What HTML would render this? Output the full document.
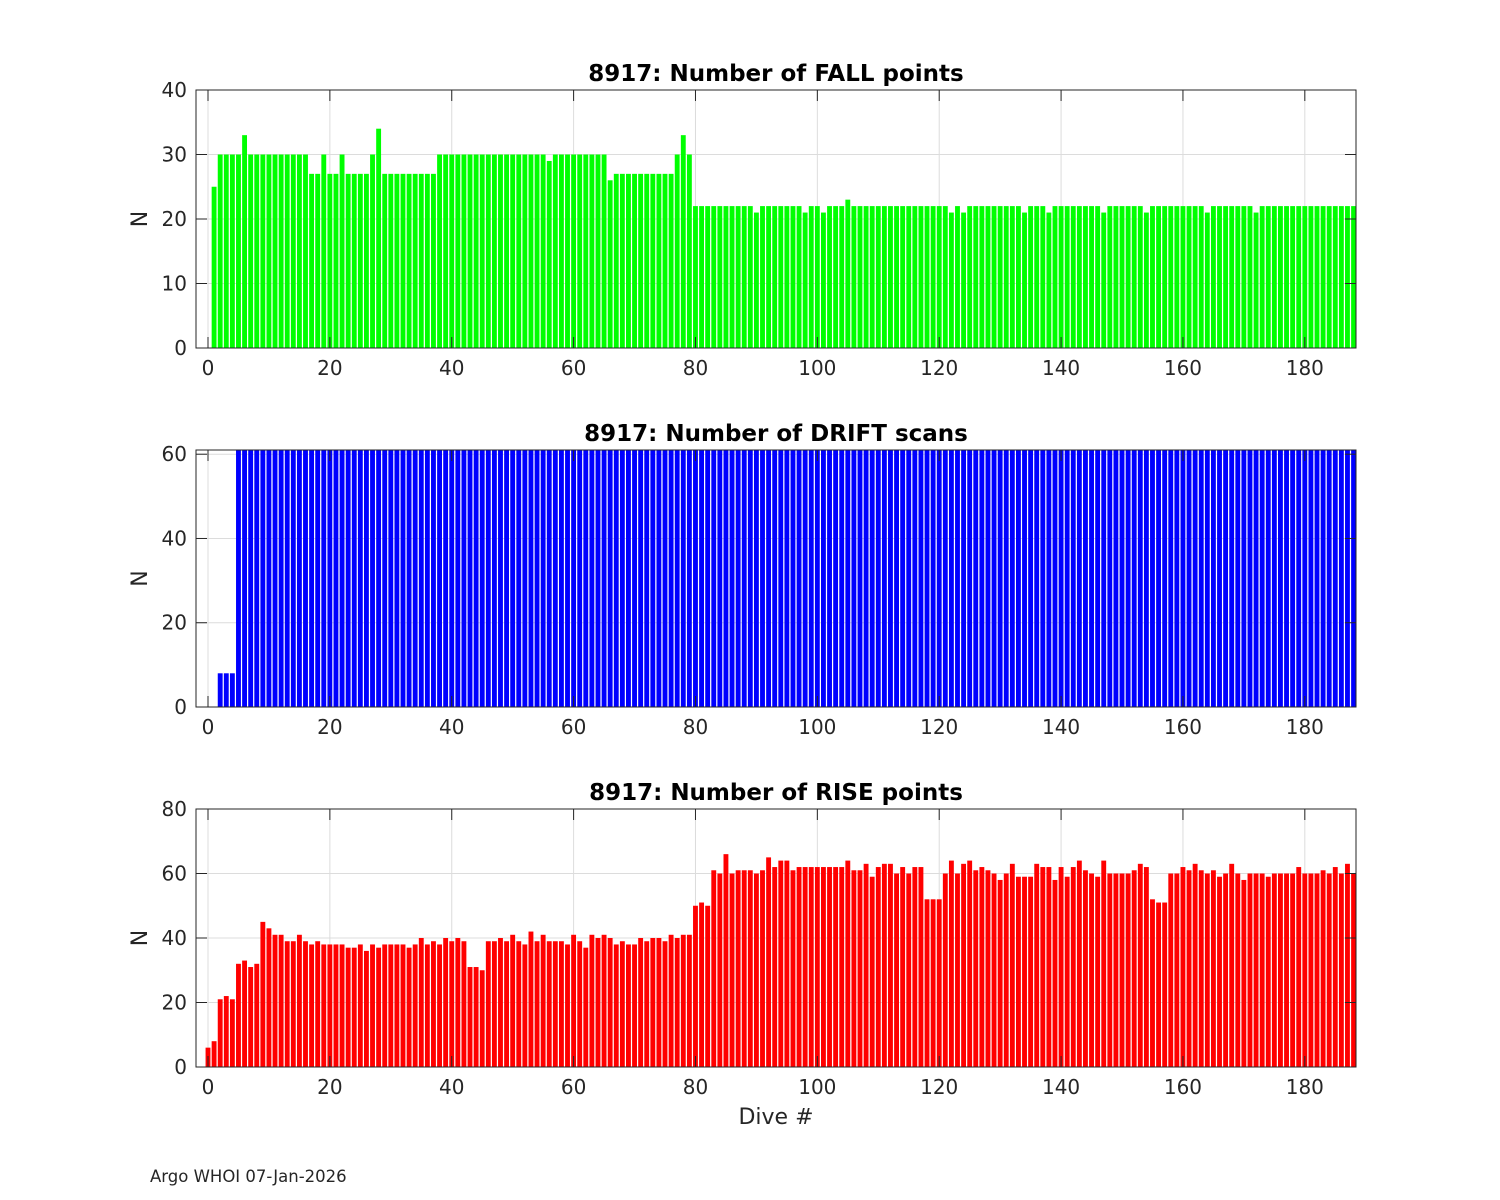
<!DOCTYPE html>
<html><head><meta charset="utf-8"><style>
html,body{margin:0;padding:0;background:#fff}
svg{display:block}
text{font-family:"DejaVu Sans","Liberation Sans",sans-serif;fill:#262626}
</style></head><body>
<svg id="fig" width="1500" height="1200" viewBox="0 0 1500 1200" xmlns="http://www.w3.org/2000/svg">
<rect width="1500" height="1200" fill="#fff"/>
<text x="150" y="1182" font-size="16.5">Argo WHOI 07-Jan-2026</text>
<text x="776" y="1124" font-size="22" text-anchor="middle">Dive #</text>
</svg>
<script>
const fallValues = [25,30,30,30,30,33,30,30,30,30,30,30,30,30,30,30,27,27,30,27,27,30,27,27,27,27,30,34,27,27,27,27,27,27,27,27,27,30,30,30,30,30,30,30,30,30,30,30,30,30,30,30,30,30,30,29,30,30,30,30,30,30,30,30,30,26,27,27,27,27,27,27,27,27,27,27,30,33,30,22,22,22,22,22,22,22,22,22,22,21,22,22,22,22,22,22,22,21,22,22,21,22,22,22,23,22,22,22,22,22,22,22,22,22,22,22,22,22,22,22,22,21,22,21,22,22,22,22,22,22,22,22,22,21,22,22,22,21,22,22,22,22,22,22,22,22,21,22,22,22,22,22,22,21,22,22,22,22,22,22,22,22,22,21,22,22,22,22,22,22,22,21,22,22,22,22,22,22,22,22,22,22,22,22,22,22,22,22];
const driftValues = [0,8,8,8];
const riseValues = [6,8,21,22,21,32,33,31,32,45,43,41,41,39,39,41,39,38,39,38,38,38,38,37,37,38,36,38,37,38,38,38,38,37,38,40,38,39,38,40,39,40,39,31,31,30,39,39,40,39,41,39,38,42,39,41,39,39,39,38,41,39,37,41,40,41,40,38,39,38,38,40,39,40,40,39,41,40,41,41,50,51,50,61,60,66,60,61,61,61,60,61,65,62,64,64,61,62,62,62,62,62,62,62,62,64,61,61,63,59,62,63,63,60,62,60,62,62,52,52,52,60,64,60,63,64,61,62,61,60,58,60,63,59,59,59,63,62,62,58,62,59,62,64,61,60,59,64,60,60,60,60,61,63,62,52,51,51,60,60,62,61,63,61,60,61,59,60,63,60,58,60,60,60,59,60,60,60,60,62,60,60,60,61,60,62,60,63,60];
for (let d = 5; d <= 188; d++) driftValues.push(61);
const xTicks = [0,20,40,60,80,100,120,140,160,180];
const fallYTicks = [0,10,20,30,40];
const driftYTicks = [0,20,40,60];
const riseYTicks = [0,20,40,60,80];

const NS = "http://www.w3.org/2000/svg";
const fig = document.getElementById('fig');
const X0 = 196, X1 = 1356, XMIN = -1.97, XMAX = 188.4;
function xs(v){ return X0 + (v - XMIN) / (XMAX - XMIN) * (X1 - X0); }
function mk(tag, attrs, parent){ const e = document.createElementNS(NS, tag); for (const k in attrs) e.setAttribute(k, attrs[k]); (parent||fig).appendChild(e); return e; }

function panel(name, top, bottom, ymax, yTicks, vals, startDive, color, title){
  const g = mk('g', {});
  
  
  const ys = v => bottom - v / ymax * (bottom - top);
  xTicks.forEach(t => {
    const l = mk('line', {x1: xs(t), x2: xs(t), y1: top, y2: bottom, stroke: '#dcdcdc', 'stroke-width': 1}, g);
    
    
  });
  yTicks.forEach(t => {
    const l = mk('line', {x1: X0, x2: X1, y1: ys(t), y2: ys(t), stroke: '#dcdcdc', 'stroke-width': 1}, g);
    
    
  });
  const cid = 'clip-' + name;
  const cp = mk('clipPath', {id: cid}, g);
  mk('rect', {x: X0, y: top, width: X1 - X0, height: bottom - top}, cp);
  const bg = mk('g', {'clip-path': 'url(#' + cid + ')'}, g);
  const bw = 0.8 * (xs(1) - xs(0));
  vals.forEach((v, i) => {
    const d = startDive + i;
    if (v <= 0) return;
    const r = mk('rect', {x: xs(d) - bw/2, y: ys(v), width: bw, height: bottom - ys(v), fill: color}, bg);
    
    
  });
  const box = mk('rect', {x: X0, y: top, width: X1 - X0, height: bottom - top, fill: 'none', stroke: '#262626', 'stroke-width': 1}, g);
  
  
  xTicks.forEach(t => {
    mk('line', {x1: xs(t), x2: xs(t), y1: bottom, y2: bottom - 11, stroke: '#262626'}, g);
    mk('line', {x1: xs(t), x2: xs(t), y1: top, y2: top + 11, stroke: '#262626'}, g);
    const tx = mk('text', {x: xs(t), y: bottom + 27, 'font-size': 20, 'text-anchor': 'middle'}, g);
    tx.textContent = t;
    
    
  });
  yTicks.forEach(t => {
    mk('line', {x1: X0, x2: X0 + 11, y1: ys(t), y2: ys(t), stroke: '#262626'}, g);
    mk('line', {x1: X1, x2: X1 - 11, y1: ys(t), y2: ys(t), stroke: '#262626'}, g);
    const tx = mk('text', {x: X0 - 9, y: ys(t) + 7, 'font-size': 20, 'text-anchor': 'end'}, g);
    tx.textContent = t;
    
    
  });
  const yl = mk('text', {x: 0, y: 0, 'font-size': 22, 'text-anchor': 'middle', transform: 'translate(147,' + ((top + bottom)/2) + ') rotate(-90)'}, g);
  yl.textContent = 'N';
  
  
  const tt = mk('text', {x: (X0 + X1)/2, y: top - 9, 'font-size': 23, 'font-weight': 'bold', 'text-anchor': 'middle', style: 'fill:#000'}, g);
  tt.textContent = title;
  
  
}
panel('fall', 90, 348, 40, fallYTicks, fallValues, 1, '#00ff00', '8917: Number of FALL points');
panel('drift', 450, 707, 61, driftYTicks, driftValues, 1, '#0000ff', '8917: Number of DRIFT scans');
panel('rise', 809, 1067, 80, riseYTicks, riseValues, 0, '#ff0000', '8917: Number of RISE points');
</script>
</body></html>
